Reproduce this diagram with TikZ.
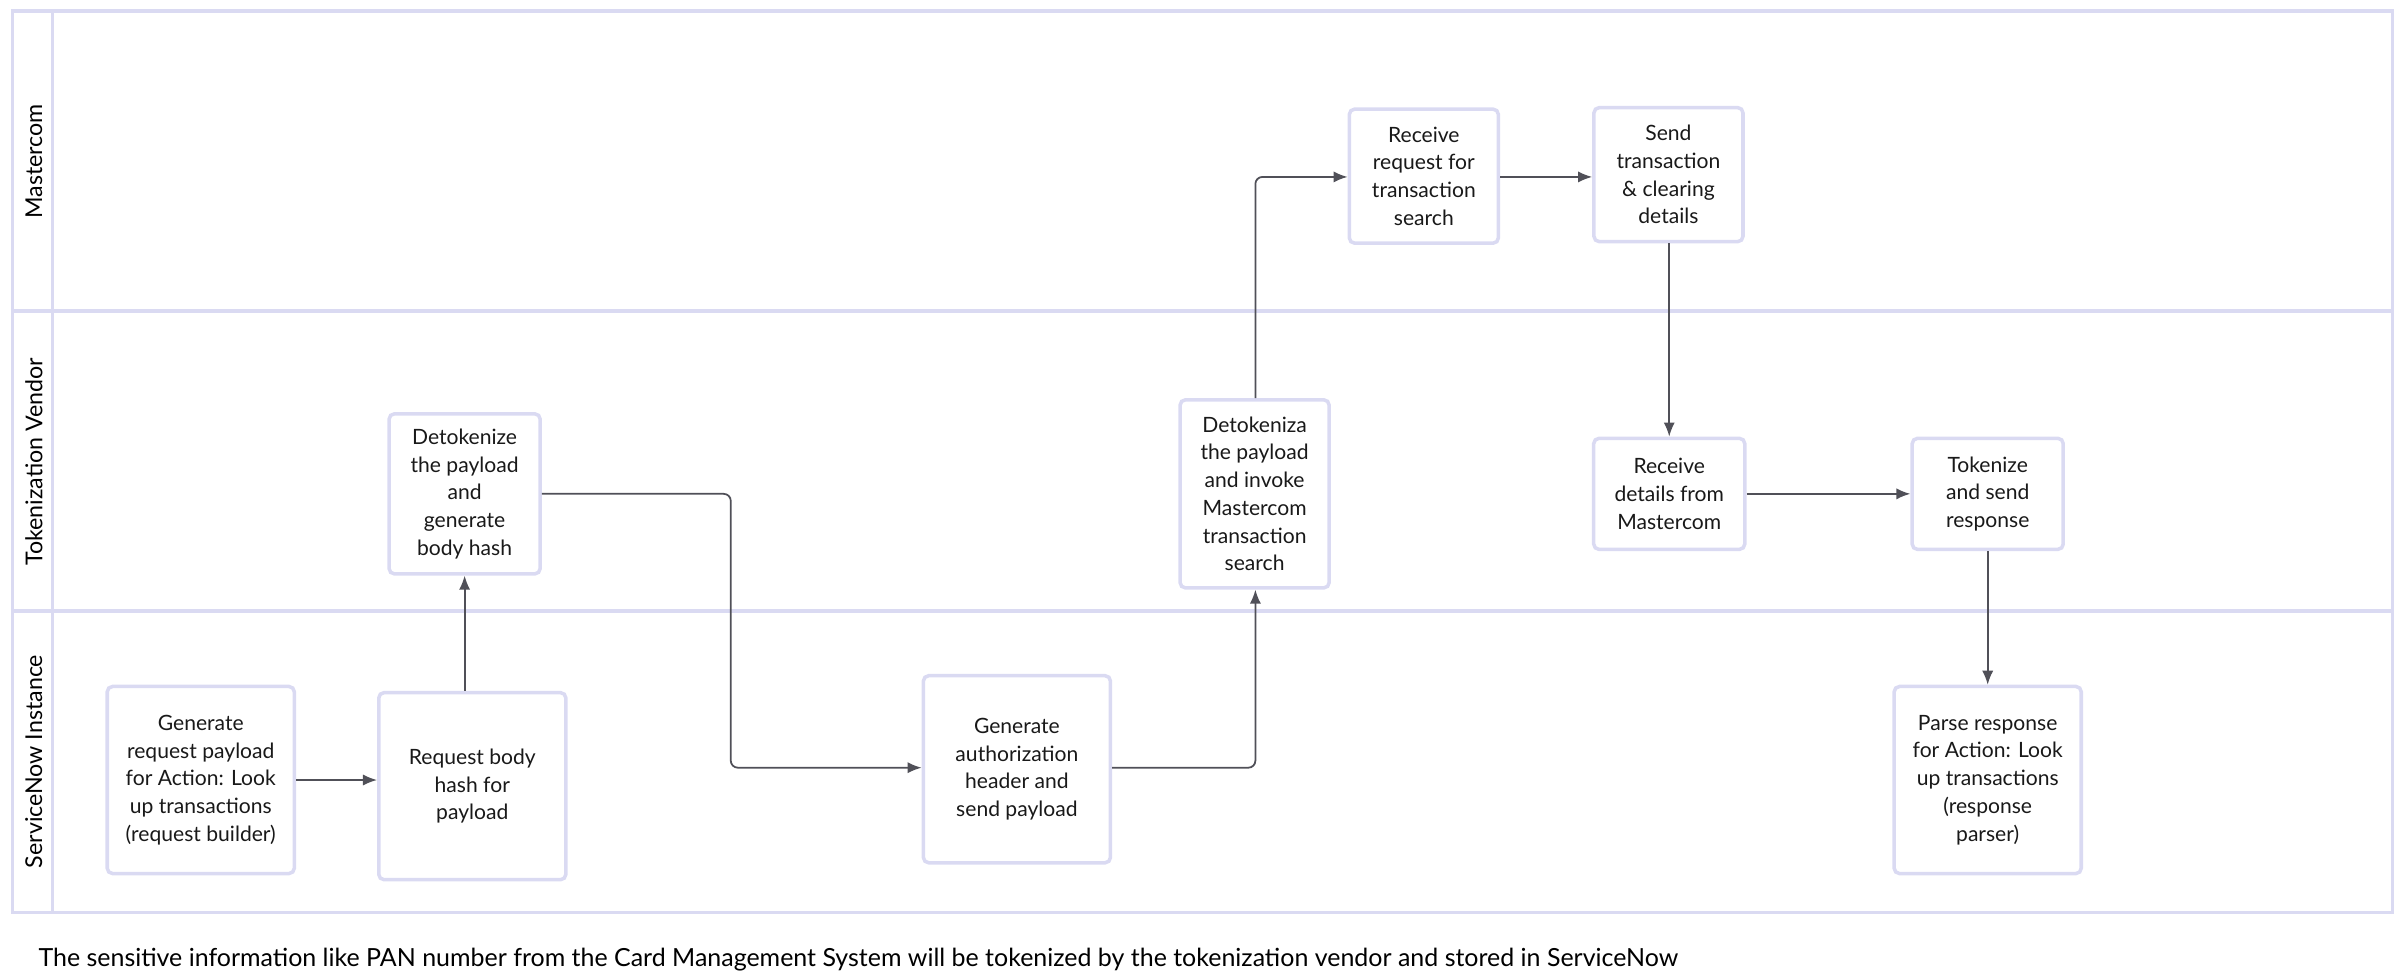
\documentclass[tikz,border=0pt]{standalone}
\usepackage{fontspec}
\setmainfont{Lato}
\usetikzlibrary{calc}
\usetikzlibrary{arrows.meta}
\definecolor{laneline}{HTML}{DADAF2}
\definecolor{flowline}{HTML}{505058}
\tikzstyle{stepnode} = [draw=laneline, line width=1pt, rounded corners=1.5pt, align=center, font=\fontsize{6}{7.9}\selectfont, text=black!90]
\tikzstyle{wideStep} = [minimum width=1.87cm, minimum height=1.87cm]
\tikzstyle{flow} = [draw=flowline, line width=0.5pt, rounded corners=2pt, -{Latex[length=4pt,width=3.2pt]}]
\tikzstyle{lanelabel} = [rotate=90, font=\fontsize{6.6}{8}\selectfont]

\begin{document}
\begin{tikzpicture}[x=0.015385cm, y=-0.015385cm]
    \useasboundingbox (0,0) rectangle (1560,636);
    % swimlanes
    \draw[laneline, line width=1pt] (8,7) rectangle (1555,593);
    \draw[laneline, line width=1pt] (34,7) -- (34,593);
    \draw[laneline, line width=1pt] (8,202) -- (1555,202);
    \draw[laneline, line width=1pt] (8,397) -- (1555,397);
    \node[lanelabel] (lane_mc) at (22,105) {Mastercom};
    \node[lanelabel] (lane_tv) at (22,300) {Tokenization Vendor};
    \node[lanelabel] (lane_sn) at (22,495) {ServiceNow Instance};

    \node[stepnode, wideStep] (gen_req) at (130.5,507) {Generate\\request payload\\for Action: Look\\up transactions\\(request builder)};
    \node[stepnode, wideStep] (req_hash) at (307,511) {Request body\\hash for\\payload};
    \node[stepnode, minimum width=1.51cm, minimum height=1.6cm] (detok_hash) at (302,321) {Detokenize\\the payload\\and\\generate\\body hash};
    \node[stepnode, wideStep] (gen_auth) at (661,500) {Generate\\authorization\\header and\\send payload};
    \node[stepnode, minimum width=1.49cm, minimum height=1.88cm] (detok_inv) at (815.5,321) {Detokeniza\\the payload\\and invoke\\Mastercom\\transaction\\search};
    \node[stepnode, minimum width=1.49cm, minimum height=1.34cm] (mc_recv) at (925.5,114.5) {Receive\\request for\\transaction\\search};
    \node[stepnode, minimum width=1.49cm, minimum height=1.34cm] (mc_send) at (1084.5,113.5) {Send\\transaction\\\& clearing\\details};
    \node[stepnode, minimum width=1.51cm, minimum height=1.11cm] (tv_recv) at (1085,321) {Receive\\details from\\Mastercom};
    \node[stepnode, minimum width=1.51cm, minimum height=1.11cm] (tv_tok) at (1292,321) {Tokenize\\and send\\response};
    \node[stepnode, wideStep] (parse_resp) at (1292,507) {Parse response\\for Action: Look\\up transactions\\(response\\parser)};

    \draw[flow] (gen_req) -- (req_hash.west |- gen_req);
    \draw[flow] (req_hash.north -| detok_hash) -- (detok_hash.south);
    \draw[flow] (detok_hash.east) -- (475,321) -- (475,499) -- (gen_auth.west |- 0,499);
    \draw[flow] (gen_auth.east |- 0,499) -- (816,499) -- (detok_inv.south -| 816,0);
    \draw[flow] (detok_inv.north -| 816,0) -- (816,115) -- (mc_recv.west |- 0,115);
    \draw[flow] (mc_recv.east |- 0,115) -- (mc_send.west |- 0,115);
    \draw[flow] (mc_send.south -| tv_recv) -- (tv_recv.north);
    \draw[flow] (tv_recv) -- (tv_tok);
    \draw[flow] (tv_tok.south) -- (parse_resp.north);

    \node[anchor=west, font=\fontsize{7.1}{9}\selectfont] (caption) at (17,624) {The sensitive information like PAN number from the Card Management System will be tokenized by the tokenization vendor and stored in ServiceNow};
\end{tikzpicture}
\end{document}
